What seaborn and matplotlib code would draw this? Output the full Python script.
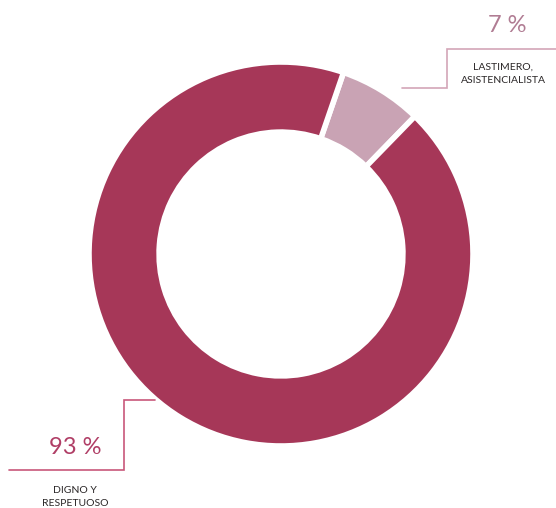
import matplotlib
matplotlib.use('Agg')
import matplotlib.pyplot as plt
import seaborn as sns

# ── DATA ──
categories = ['Lastimero, asistencialista', 'Digno y respetuoso']
shares = [7, 93]
pct_labels = ['7 %', '93 %']
cat_labels = ['LASTIMERO,\nASISTENCIALISTA', 'DIGNO Y\nRESPETUOSO']

sns.set_style('white')
plt.rcParams['font.family'] = ['Lato', 'DejaVu Sans']

colors = ['#C9A3B4', '#A63758']

fig = plt.figure(figsize=(5.56, 5.08), dpi=100)
ax = fig.add_axes([0, 0, 1, 1])

# donut (pixel-like coordinates, y up)
cx, cy, R = 281, 254, 192
ax.pie(shares, colors=colors, startangle=71, counterclock=False,
       center=(cx, cy), radius=R, frame=True,
       wedgeprops=dict(width=R * 0.365, edgecolor='white', linewidth=4))

ax.set_xlim(0, 556)
ax.set_ylim(0, 508)
ax.set_aspect('equal')
ax.axis('off')

# ── leader lines & labels ──
# top right (7 %)
ax.plot([402, 447, 447, 556], [420, 420, 459, 459], color='#D3A5B7', lw=1.2,
        solid_joinstyle='miter', clip_on=False)
ax.text(507, 483, pct_labels[0], ha='center', va='center', fontsize=17,
        color='#B07C93', fontweight='normal')
ax.text(503, 434, cat_labels[0], ha='center', va='center', fontsize=7.5,
        color='#2A2627', linespacing=1.6)

# bottom left (93 %)
ax.plot([155, 124, 124, 9], [108, 108, 38, 38], color='#C8577A', lw=1.2,
        solid_joinstyle='miter', clip_on=False)
ax.text(75, 61, pct_labels[1], ha='center', va='center', fontsize=17,
        color='#B03E66', fontweight='normal')
ax.text(75, 11, cat_labels[1], ha='center', va='center', fontsize=7.5,
        color='#2A2627', linespacing=1.6)

plt.savefig('out.png', dpi=100)
plt.close()
